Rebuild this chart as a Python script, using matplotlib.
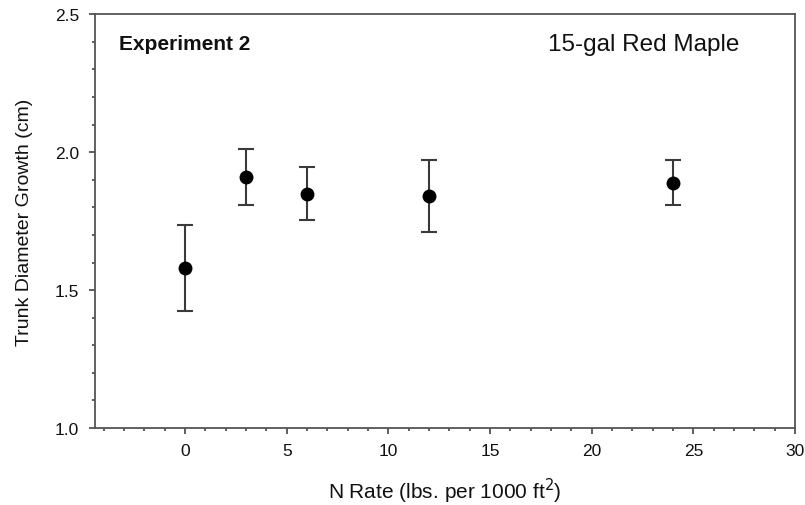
import matplotlib
matplotlib.use("Agg")
import matplotlib.pyplot as plt
from matplotlib.ticker import MultipleLocator, FormatStrFormatter

plt.rcParams['font.family'] = ['Liberation Sans', 'DejaVu Sans']

n_rate = [0, 3, 6, 12, 24]
growth = [1.58, 1.91, 1.85, 1.84, 1.89]
err = [0.155, 0.10, 0.095, 0.13, 0.082]

fig = plt.figure(figsize=(8.05, 5.06), dpi=100)
ax = fig.add_axes([0.118, 0.152, 0.8696, 0.818])

ax.errorbar(n_rate, growth, yerr=err, fmt='o', color='black', ecolor='#3a3a3a',
            elinewidth=1.5, capsize=5.5, capthick=1.5, markersize=9)

ax.set_xlim(-4.43, 30)
ax.set_ylim(1.0, 2.5)
ax.xaxis.set_major_locator(MultipleLocator(5))
ax.xaxis.set_minor_locator(MultipleLocator(1))
ax.yaxis.set_major_locator(MultipleLocator(0.5))
ax.yaxis.set_minor_locator(MultipleLocator(0.1))
ax.yaxis.set_major_formatter(FormatStrFormatter('%.1f'))
ax.tick_params(which='major', direction='out', length=4.5, width=1.2, labelsize=12.5,
               color='#444444', labelcolor='#111111')
ax.tick_params(which='minor', direction='out', length=2.5, width=1.2, color='#444444')
ax.tick_params(axis='y', which='major', pad=7)
ax.tick_params(axis='x', which='major', pad=6)
for s in ax.spines.values():
    s.set_color('#555555')
    s.set_linewidth(1.3)

ax.set_xlabel('N Rate (lbs. per 1000 ft$^2$)', fontsize=15, color='#111111')
ax.set_ylabel('Trunk Diameter Growth (cm)', fontsize=14, color='#111111')
ax.xaxis.set_label_coords(0.5, -0.115)
ax.yaxis.set_label_coords(-0.089, 0.5)

ax.text(0.034, 0.928, 'Experiment 2', transform=ax.transAxes, fontsize=15,
        fontweight='bold', va='center', ha='left', color='#111111')
ax.text(0.921, 0.928, '15-gal Red Maple', transform=ax.transAxes, fontsize=17.5,
        va='center', ha='right', color='#111111')

fig.savefig('out.png', dpi=100)
